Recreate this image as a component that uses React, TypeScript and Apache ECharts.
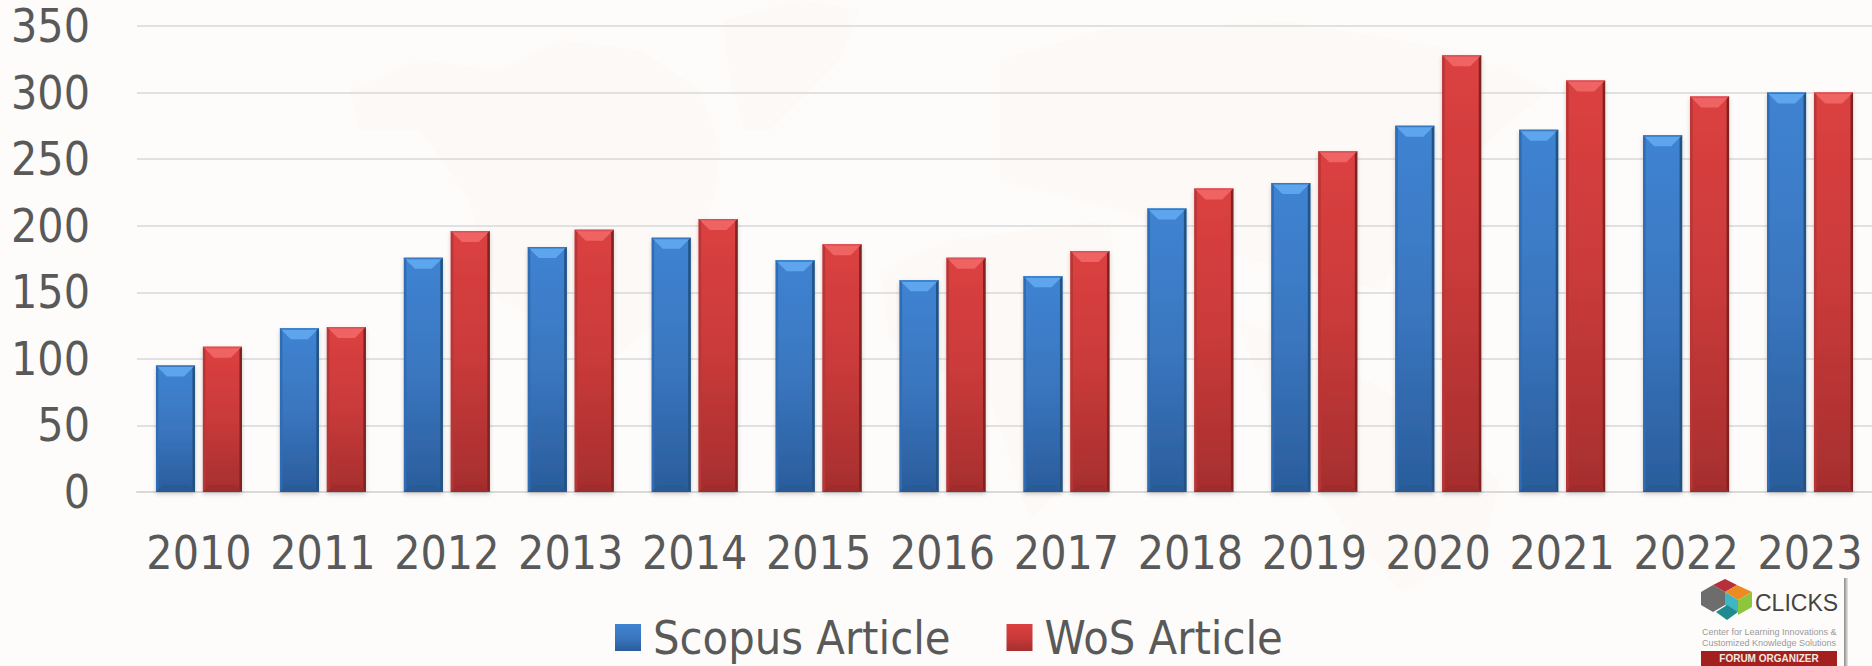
import React, { useEffect, useRef } from "react";
import * as echarts from "echarts";

const years = ["2010","2011","2012","2013","2014","2015","2016","2017","2018","2019","2020","2021","2022","2023"];
const scopus = [95,123,176,184,191,174,159,162,213,232,275,272,268,300];
const wos = [109,124,196,197,205,186,176,181,228,256,328,309,297,300];

const FONT = "'DejaVu Sans Condensed', 'DejaVu Sans', sans-serif";
const TEXT = "#595959";
const BAR_W = 39;
const GAP = 8;
const MAP = "#fcf9f7";

const grad = (stops: [number,string][], x2 = 1, y2 = 0) =>
  new echarts.graphic.LinearGradient(0, 0, x2, y2, stops.map(([offset,color]) => ({ offset, color })));

const blueFill = () => grad([[0,"#3f83d2"],[0.5,"#3a76bf"],[1,"#2a5d9c"]],0,1);
const redFill = () => grad([[0,"#dc4040"],[0.5,"#c93a3a"],[1,"#a62e2e"]],0,1);

function bevel(idx: number, light: string, rim: string, side: string, dark: string, foot: string) {
  return (params: any, api: any) => {
    const cat = api.value(0);
    const val = api.value(1);
    const top = api.coord([cat, val]);
    const base = api.coord([cat, 0]);
    const x0 = top[0] + (idx === 0 ? -(BAR_W + GAP / 2) : GAP / 2);
    const x1 = x0 + BAR_W;
    const b = 11;
    const s = 2.5;
    return {
      type: "group",
      silent: true,
      children: [
        { type: "polygon", shape: { points: [[x0, top[1]],[x1, top[1]],[x1 - b, top[1] + b],[x0 + b, top[1] + b]] }, style: { fill: light } },
        { type: "rect", shape: { x: x0, y: top[1], width: BAR_W, height: 1.5 }, style: { fill: rim } },
        { type: "polygon", shape: { points: [[x0, top[1]],[x0 + s, top[1] + s],[x0 + s, base[1] - s],[x0, base[1]]] }, style: { fill: side } },
        { type: "polygon", shape: { points: [[x1, top[1]],[x1 - s, top[1] + s],[x1 - s, base[1] - s],[x1, base[1]]] }, style: { fill: dark } },
        { type: "polygon", shape: { points: [[x0, base[1]],[x1, base[1]],[x1 - 7, base[1] - 7],[x0 + 7, base[1] - 7]] }, style: { fill: foot } },
      ],
    };
  };
}

const bg = (points: number[][]) => ({ type: "polygon", z: -10, silent: true, shape: { points }, style: { fill: MAP } });

export default function App() {
  const ref = useRef<HTMLDivElement>(null);
  useEffect(() => {
    const chart = echarts.init(ref.current!, undefined, { renderer: "svg" });
    chart.setOption({
      animation: false,
      backgroundColor: "#fdfcfb",
      grid: { left: 137, right: 0, top: 26, height: 466, containLabel: false, outerBoundsMode: "none" },
      legend: {
        left: 615, top: 614, itemWidth: 26, itemHeight: 27, itemGap: 56, padding: 0,
        data: ["Scopus Article", "WoS Article"],
        icon: "rect",
        textStyle: { fontFamily: FONT, fontSize: 46.5, color: TEXT, padding: [0,0,0,7] },
      },
      xAxis: {
        type: "category", data: years,
        axisLine: { lineStyle: { color: "#d9d9d9", width: 2 } },
        axisTick: { show: false },
        axisLabel: { fontFamily: FONT, fontSize: 46, color: TEXT, margin: 38, interval: 0, hideOverlap: false },
      },
      yAxis: {
        type: "value", min: 0, max: 350, interval: 50,
        axisLine: { show: false }, axisTick: { show: false },
        splitLine: { lineStyle: { color: "#d9d9d9", width: 1.5 } },
        axisLabel: { fontFamily: FONT, fontSize: 46, color: TEXT, margin: 47 },
      },
      series: [
        { name: "Scopus Article", type: "bar", data: scopus, barWidth: BAR_W, barGap: "20%", z: 2,
          itemStyle: { color: blueFill(), shadowColor: "rgba(0,0,0,0.2)", shadowBlur: 4, shadowOffsetY: 2 } },
        { name: "WoS Article", type: "bar", data: wos, barWidth: BAR_W, z: 2,
          itemStyle: { color: redFill(), shadowColor: "rgba(0,0,0,0.2)", shadowBlur: 4, shadowOffsetY: 2 } },
        { type: "custom", z: 3, silent: true, tooltip: { show: false },
          renderItem: bevel(0, "#5da6ee", "#3a78c0", "#2f6cb3", "#24527f", "#295a96"),
          encode: { x: 0, y: 1 }, data: scopus.map((v, i) => [i, v]) },
        { type: "custom", z: 3, silent: true, tooltip: { show: false },
          renderItem: bevel(1, "#f06363", "#d9505a", "#b93636", "#7f2222", "#9e2c2c"),
          encode: { x: 0, y: 1 }, data: wos.map((v, i) => [i, v]) },
      ],
      graphic: [
        bg([[350,90],[420,60],[500,70],[560,40],[640,50],[700,90],[720,150],[715,190],[700,250],[660,320],[610,360],[560,330],[500,300],[480,250],[470,200],[420,130],[360,130]]),
        bg([[724,20],[800,0],[860,10],[840,60],[770,130],[745,130],[730,80]]),
        bg([[880,270],[950,240],[1110,220],[1120,330],[1070,480],[1030,520],[990,400],[890,340]]),
        bg([[1000,60],[1100,30],[1290,22],[1460,50],[1550,90],[1500,130],[1430,200],[1380,290],[1250,260],[1120,210],[1000,180]]),
        bg([[1236,320],[1300,340],[1400,400],[1500,480],[1480,560],[1400,590],[1340,520],[1280,430]]),
        { type: "rect", z: 10, shape: { x: 1692, y: 576, width: 152, height: 90 }, style: { fill: "#fdfcfb" } },
        { type: "rect", z: 10, shape: { x: 1844, y: 578, width: 4, height: 88 }, style: { fill: grad([[0,"#8a8a8a"],[1,"#e8e8e8"]]) } },
        { type: "polygon", z: 11, shape: { points: [[1701,592],[1713,585],[1725,592],[1725,605],[1713,612],[1701,605]] }, style: { fill: "#6d6d6d" } },
        { type: "polygon", z: 11, shape: { points: [[1713,585],[1725,592],[1737,585],[1725,579]] }, style: { fill: "#b5303a" } },
        { type: "polygon", z: 11, shape: { points: [[1725,592],[1737,585],[1752,592],[1738,600]] }, style: { fill: "#ee8a22" } },
        { type: "polygon", z: 11, shape: { points: [[1725,592],[1738,600],[1738,612],[1725,605]] }, style: { fill: "#3fb6c2" } },
        { type: "polygon", z: 11, shape: { points: [[1738,600],[1752,592],[1752,607],[1738,615]] }, style: { fill: "#8cc63f" } },
        { type: "polygon", z: 11, shape: { points: [[1716,612],[1727,605],[1738,612],[1727,620]] }, style: { fill: "#1f8a8f" } },
        { type: "text", z: 11, x: 1755, y: 591, style: { text: "CLICKS", fontFamily: "Liberation Sans", fontSize: 23, fill: "#444" } },
        { type: "text", z: 11, x: 1702, y: 627, style: { text: "Center for Learning Innovations &", fontFamily: "Liberation Sans", fontSize: 9, fill: "#9a9a9a" } },
        { type: "text", z: 11, x: 1702, y: 638, style: { text: "Customized Knowledge Solutions", fontFamily: "Liberation Sans", fontSize: 9, fill: "#9a9a9a" } },
        { type: "rect", z: 11, shape: { x: 1701, y: 651, width: 136, height: 15 }, style: { fill: "#a3201f" } },
        { type: "text", z: 12, x: 1769, y: 653, style: { text: "FORUM ORGANIZER", align: "center", fontFamily: "Liberation Sans", fontWeight: "bold", fontSize: 10, fill: "#f5e9e0" } },
      ],
    });
    return () => chart.dispose();
  }, []);
  return <div ref={ref} style={{ position: "fixed", left: 0, top: 0, width: 1872, height: 666 }} />;
}
